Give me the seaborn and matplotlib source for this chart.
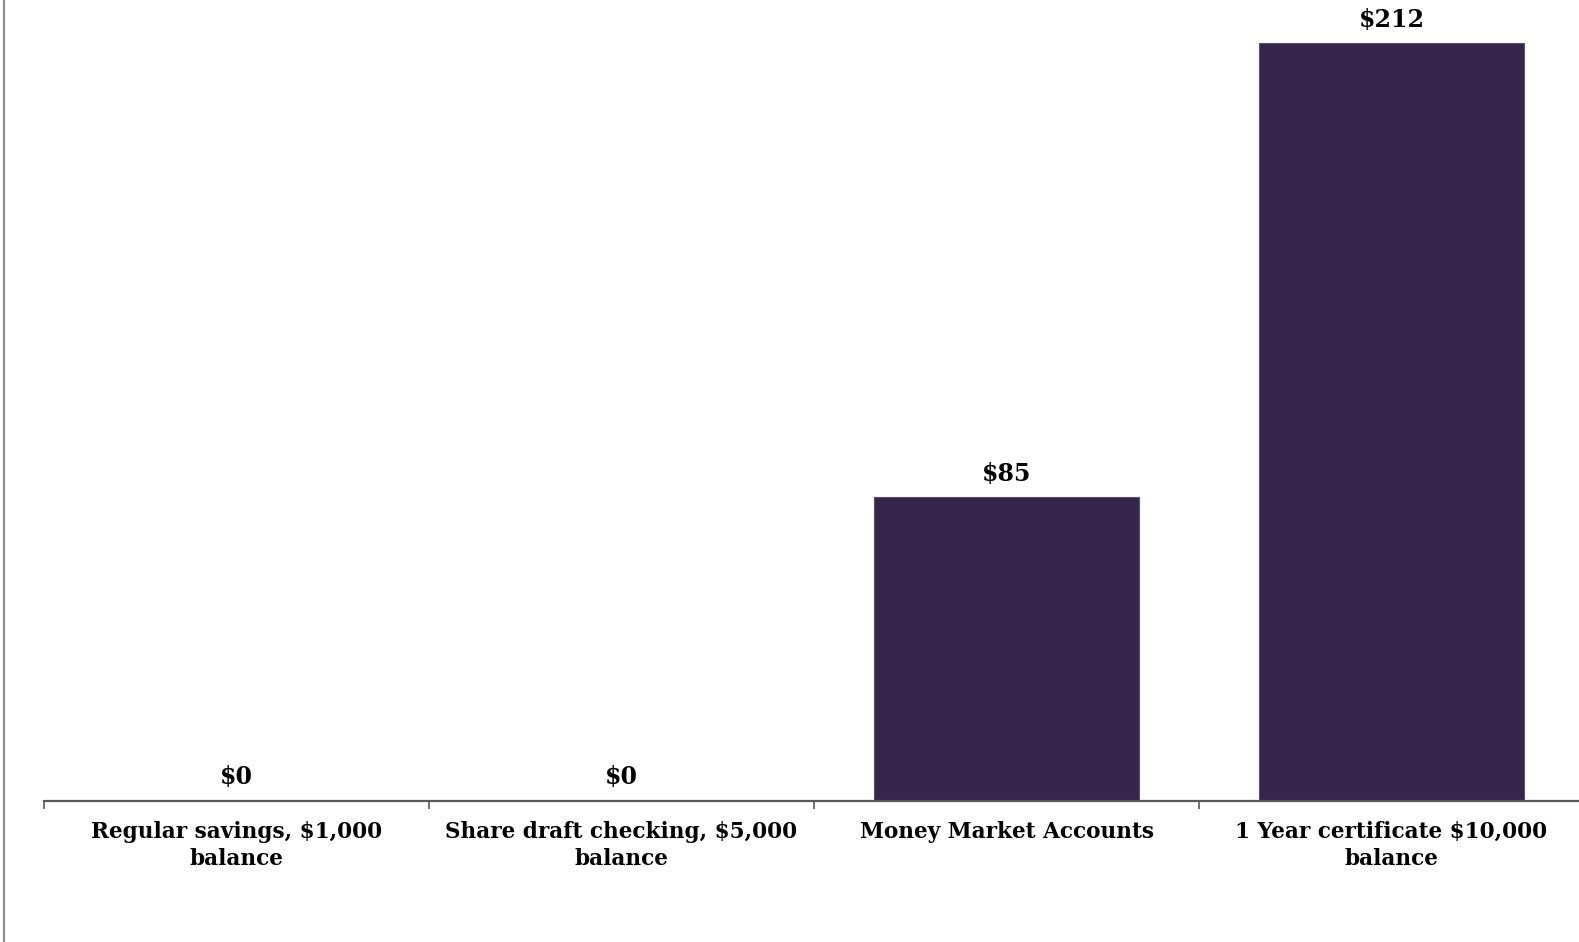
import matplotlib
matplotlib.use("Agg")
import matplotlib.pyplot as plt
import seaborn as sns
import pandas as pd
from matplotlib.lines import Line2D

categories = ["Regular savings, $1,000\nbalance",
              "Share draft checking, $5,000\nbalance",
              "Money Market Accounts",
              "1 Year certificate $10,000\nbalance"]
values = [0, 0, 85, 212]
value_labels = ["$0", "$0", "$85", "$212"]

sns.set_style("white")
plt.rcParams['font.family'] = ['DejaVu Serif']
plt.rcParams['font.weight'] = 'bold'
plt.rcParams['text.color'] = 'black'
plt.rcParams['xtick.color'] = 'black'

df = pd.DataFrame({"cat": categories, "val": values})

fig = plt.figure(figsize=(15.79, 9.42), dpi=100)
ax = fig.add_axes([44/1579, 1 - 800.6/942, 4*385/1579, 800.6/942])
sns.barplot(data=df, x="cat", y="val", color="#36254a", saturation=1,
            width=0.69, edgecolor="#5a4d6e", linewidth=0.8, ax=ax)
ax.set_xlim(-0.5, 3.5)
ax.set_ylim(0, 224.1)
ax.set_xlabel("")
ax.set_ylabel("")
ax.set_yticks([])
for s in ["top", "right", "left"]:
    ax.spines[s].set_visible(False)
ax.spines["bottom"].set_color("#595959")
ax.spines["bottom"].set_linewidth(1.6)

ax.set_xticks(range(len(categories)))
ax.set_xticklabels(categories, fontweight="bold", fontsize=15.6,
                   linespacing=1.3, color="black")
ax.tick_params(axis="x", which="major", length=0, pad=14.5, labelcolor="black")
ax.set_xticks([-0.5, 0.5, 1.5, 2.5], minor=True)
ax.tick_params(axis="x", which="minor", length=6, width=1.2, color="#595959", bottom=True)

ax.bar_label(ax.containers[0], labels=value_labels, padding=8,
             fontsize=17, fontweight="bold", color="black")

fig.add_artist(Line2D([3.5/1579, 3.5/1579], [0, 1], color="#8c8c8c", lw=1.5,
                      transform=fig.transFigure))

fig.savefig("out.png", dpi=100)
